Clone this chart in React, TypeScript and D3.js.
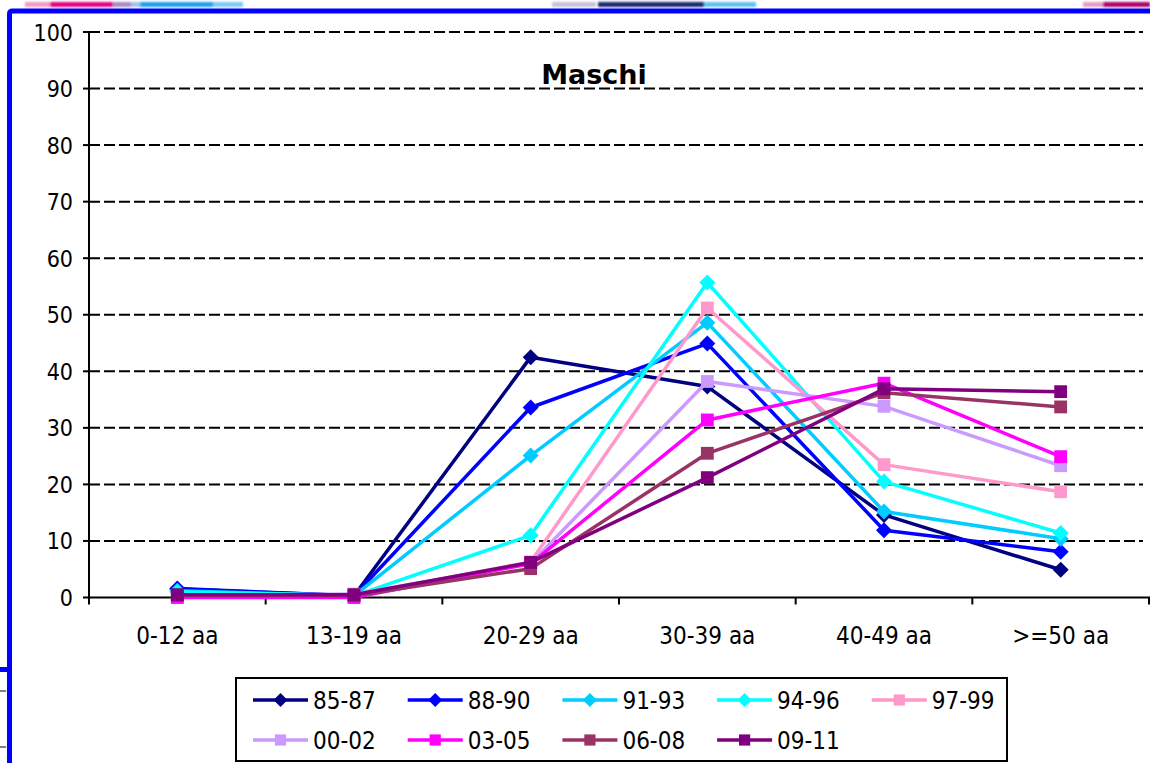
import React from "react";
import * as d3 from "d3";

const categories = ["0-12 aa", "13-19 aa", "20-29 aa", "30-39 aa", "40-49 aa", ">=50 aa"];
const yTicks = [0, 10, 20, 30, 40, 50, 60, 70, 80, 90, 100];

const seriesNames = ["85-87", "88-90", "91-93", "94-96", "97-99", "00-02", "03-05", "06-08", "09-11"];
const seriesColors = ["#000080", "#0000FF", "#00CCFF", "#00FFFF", "#FF99CC", "#CC99FF", "#FF00FF", "#993366", "#800080"];
const seriesMarkers = ["diamond", "diamond", "diamond", "diamond", "square", "square", "square", "square", "square"];

const s8587 = [1.5, 0.3, 42.5, 37.3, 14.6, 4.9];
const s8890 = [1.6, 0.3, 33.6, 44.9, 11.9, 8.1];
const s9193 = [1.2, 0.3, 25.1, 48.6, 15.2, 10.4];
const s9496 = [1.0, 0.3, 11.0, 55.7, 20.5, 11.4];
const s9799 = [0.2, 0.3, 6.3, 51.2, 23.5, 18.7];
const s0002 = [0.3, 0.6, 6.0, 38.2, 33.8, 23.3];
const s0305 = [0.0, 0.0, 6.0, 31.4, 37.9, 24.9];
const s0608 = [0.4, 0.3, 5.1, 25.5, 36.2, 33.7];
const s0911 = [0.5, 0.5, 6.2, 21.2, 36.9, 36.4];

const seriesValues = [s8587, s8890, s9193, s9496, s9799, s0002, s0305, s0608, s0911];

const FONT = "'DejaVu Sans Condensed', 'DejaVu Sans', sans-serif";
const TITLE_FONT = "'DejaVu Sans', sans-serif";

const W = 1150;
const H = 763;
const plotLeft = 89;
const plotRight = 1149;
const plotTop = 32;
const plotBottom = 597.5;

function Marker({ type, x, y, color, size }: { type: string; x: number; y: number; color: string; size: number }) {
  if (type === "diamond") {
    const h = size;
    return <path d={`M${x},${y - h}L${x + h},${y}L${x},${y + h}L${x - h},${y}Z`} fill={color} />;
  }
  const s = size * 0.8;
  return <rect x={x - s} y={y - s} width={2 * s} height={2 * s} fill={color} />;
}

export default function App() {
  const x = d3.scaleBand<string>().domain(categories).range([plotLeft, plotRight]).padding(0);
  const y = d3.scaleLinear().domain([0, 100]).range([plotBottom, plotTop]);
  const cx = (c: string) => (x(c) as number) + x.bandwidth() / 2;
  const line = d3
    .line<number>()
    .x((_, i) => cx(categories[i]))
    .y((d) => y(d));

  const legendStartX = 253;
  const legendStep = 154.7;
  const legendRowY = [700, 740];

  return (
    <div style={{ position: "fixed", left: 0, top: 0, width: W, height: H, background: "#fff" }}>
      <svg width={W} height={H} style={{ display: "block" }} fontFamily={FONT}>
        <defs>
          <filter id="soft" x="-5%" y="-50%" width="110%" height="200%">
            <feGaussianBlur stdDeviation="1.2" />
          </filter>
        </defs>
        <rect x={0} y={0} width={W} height={H} fill="#fff" />
        {/* top artifacts strip */}
        <g filter="url(#soft)">
          <rect x={25} y={2} width={26} height={5} fill="#F29AC4" />
          <rect x={50} y={2} width={63} height={5} fill="#E4007F" />
          <rect x={113} y={2} width={18} height={5} fill="#A58AC6" />
          <rect x={131} y={2} width={10} height={5} fill="#9FC3E8" />
          <rect x={140} y={2} width={73} height={5} fill="#1EA0EE" />
          <rect x={213} y={2} width={30} height={5} fill="#7CCBF4" />
          <rect x={552} y={2} width={44} height={5} fill="#C9C2D8" />
          <rect x={598} y={2} width={106} height={5} fill="#1F2A6E" />
          <rect x={704} y={2} width={52} height={5} fill="#5DC2F2" />
          <rect x={1083} y={2} width={20} height={5} fill="#E59BC2" />
          <rect x={1103} y={2} width={47} height={5} fill="#B0006A" />
        </g>
        {/* blue frame */}
        <path d={`M9.5,${H + 5}V14Q9.5,11 12.5,11H${W + 5}`} fill="none" stroke="#0000FF" strokeWidth={5} />
        <rect x={0} y={667} width={8} height={5} fill="#0000FF" />
        <line x1={0} x2={6} y1={691} y2={691} stroke="#000" strokeWidth={1} />
        <line x1={0} x2={6} y1={747} y2={747} stroke="#000" strokeWidth={1} />

        {/* gridlines */}
        {yTicks.filter((t) => t > 0).map((t) => (
          <line
            key={t}
            x1={plotLeft}
            x2={plotRight - 6}
            y1={y(t)}
            y2={y(t)}
            stroke="#000"
            strokeWidth={2}
            strokeDasharray="11,4"
          />
        ))}

        {/* y axis */}
        <line x1={plotLeft} x2={plotLeft} y1={plotTop} y2={plotBottom + 7} stroke="#000" strokeWidth={2} />
        {yTicks.map((t) => (
          <g key={t}>
            <line x1={plotLeft - 6} x2={plotLeft} y1={y(t)} y2={y(t)} stroke="#000" strokeWidth={2} />
            <text x={plotLeft - 16} y={y(t) + 8.5} textAnchor="end" fontSize={23} fill="#000">
              {t}
            </text>
          </g>
        ))}

        {/* x axis */}
        <line x1={plotLeft} x2={W} y1={plotBottom} y2={plotBottom} stroke="#000" strokeWidth={2} />
        {categories.map((c) => (
          <line
            key={"t" + c}
            x1={(x(c) as number) + x.bandwidth()}
            x2={(x(c) as number) + x.bandwidth()}
            y1={plotBottom}
            y2={plotBottom + 7}
            stroke="#000"
            strokeWidth={2}
          />
        ))}
        {categories.map((c) => (
          <text key={"l" + c} x={cx(c)} y={644} textAnchor="middle" fontSize={24} fill="#000">
            {c}
          </text>
        ))}

        {/* title */}
        <text x={594} y={84} textAnchor="middle" fontSize={27} fontWeight="bold" fill="#000" fontFamily={TITLE_FONT}>
          Maschi
        </text>

        {/* series */}
        {seriesValues.map((vals, si) => (
          <g key={seriesNames[si]}>
            <path d={line(vals) || ""} fill="none" stroke={seriesColors[si]} strokeWidth={3.5} strokeLinejoin="round" />
            {vals.map((v, i) => (
              <Marker
                key={i}
                type={seriesMarkers[si]}
                x={cx(categories[i])}
                y={y(v)}
                color={seriesColors[si]}
                size={8}
              />
            ))}
          </g>
        ))}

        {/* legend */}
        <rect x={236} y={678} width={771} height={83} fill="#fff" stroke="#000" strokeWidth={2} />
        {seriesNames.map((name, i) => {
          const row = i < 5 ? 0 : 1;
          const col = i < 5 ? i : i - 5;
          const lx = legendStartX + col * legendStep;
          const ly = legendRowY[row];
          return (
            <g key={"lg" + name}>
              <line x1={lx} x2={lx + 55} y1={ly} y2={ly} stroke={seriesColors[i]} strokeWidth={3.5} />
              <Marker type={seriesMarkers[i]} x={lx + 27.5} y={ly} color={seriesColors[i]} size={7} />
              <text x={lx + 60} y={ly + 8.5} fontSize={24} fill="#000">
                {name}
              </text>
            </g>
          );
        })}
      </svg>
    </div>
  );
}
